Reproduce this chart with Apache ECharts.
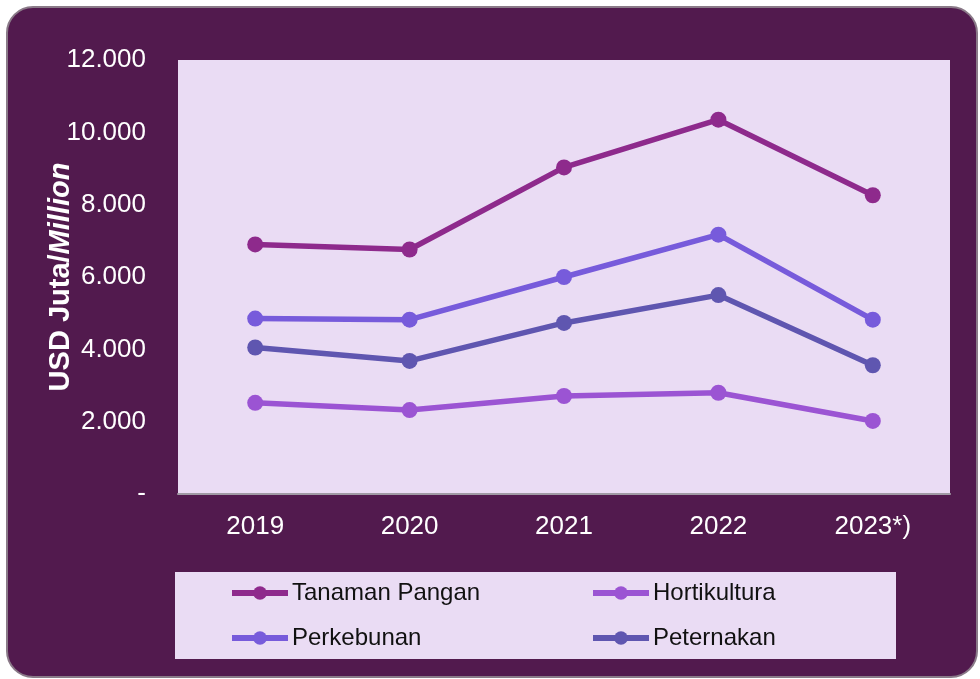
<!DOCTYPE html>
<html>
<head>
<meta charset="utf-8">
<script src="https://cdn.jsdelivr.net/npm/echarts@6/dist/echarts.min.js"></script>
<style>
  html, body { margin: 0; padding: 0; background: #fff; }
  #chart { width: 980px; height: 679px; }
</style>
</head>
<body>
<div id="chart"></div>
<script>
const years = ['2019', '2020', '2021', '2022', '2023*)']
const tanamanPangan = [6900, 6760, 9030, 10350, 8260]
const hortikultura = [2520, 2320, 2710, 2800, 2020]
const perkebunan = [4850, 4820, 6000, 7170, 4820]
const peternakan = [4050, 3680, 4730, 5500, 3560]

const chart = echarts.init(document.getElementById('chart'))

function lineSeries(name, data, color) {
  return {
    name,
    type: 'line',
    data,
    symbol: 'circle',
    symbolSize: 16,
    lineStyle: { color, width: 5.5 },
    itemStyle: { color }
  }
}

const legendText = { color: '#111', fontSize: 24, fontFamily: 'Liberation Sans', padding: [0, 0, 0, -1] }

function legendAt(names, left) {
  return {
    data: names,
    orient: 'vertical',
    left,
    top: 581,
    padding: 0,
    itemWidth: 56,
    itemHeight: 17,
    itemGap: 21,
    lineStyle: { width: 6 },
    textStyle: legendText
  }
}

chart.setOption({
  graphic: [
    {
      type: 'rect',
      z: -10,
      shape: { x: 7, y: 7, width: 970, height: 670, r: 26 },
      style: { fill: '#521A4E', stroke: '#8a7a88', lineWidth: 2 }
    },
    {
      type: 'rect',
      z: -5,
      shape: { x: 175, y: 572, width: 721, height: 87 },
      style: { fill: '#EADCF4' }
    }
  ],
  grid: {
    left: 178,
    right: 30,
    top: 60,
    bottom: 185,
    show: true,
    backgroundColor: '#EADCF4',
    borderWidth: 0
  },
  legend: [
    legendAt(['Tanaman Pangan', 'Perkebunan'], 229),
    legendAt(['Hortikultura', 'Peternakan'], 590)
  ],
  xAxis: {
    type: 'category',
    data: years,
    axisLine: { lineStyle: { color: '#A09AA4', width: 2 } },
    axisTick: { show: false },
    axisLabel: { color: '#fff', fontSize: 26, margin: 20, fontFamily: 'Liberation Sans' }
  },
  yAxis: {
    type: 'value',
    min: 0,
    max: 12000,
    interval: 2000,
    splitLine: { show: false },
    axisLine: { show: false },
    axisTick: { show: false },
    axisLabel: {
      color: '#fff',
      fontSize: 26,
      margin: 32,
      fontFamily: 'Liberation Sans',
      formatter: v => v === 0 ? '-' : (v / 1000) + '.000'
    },
    name: 'USD Juta/{i|Million}',
    nameLocation: 'middle',
    nameGap: 103,
    nameMoveOverlap: false,
    nameTextStyle: {
      color: '#fff',
      fontSize: 29,
      fontWeight: 'bold',
      fontFamily: 'Liberation Sans',
      rich: {
        i: { color: '#fff', fontSize: 29, fontWeight: 'bold', fontStyle: 'italic', fontFamily: 'Liberation Sans' }
      }
    }
  },
  series: [
    lineSeries('Tanaman Pangan', tanamanPangan, '#8E2A8C'),
    lineSeries('Hortikultura', hortikultura, '#9B54D3'),
    lineSeries('Perkebunan', perkebunan, '#775BDB'),
    lineSeries('Peternakan', peternakan, '#5F56B0')
  ]
})
</script>
</body>
</html>
